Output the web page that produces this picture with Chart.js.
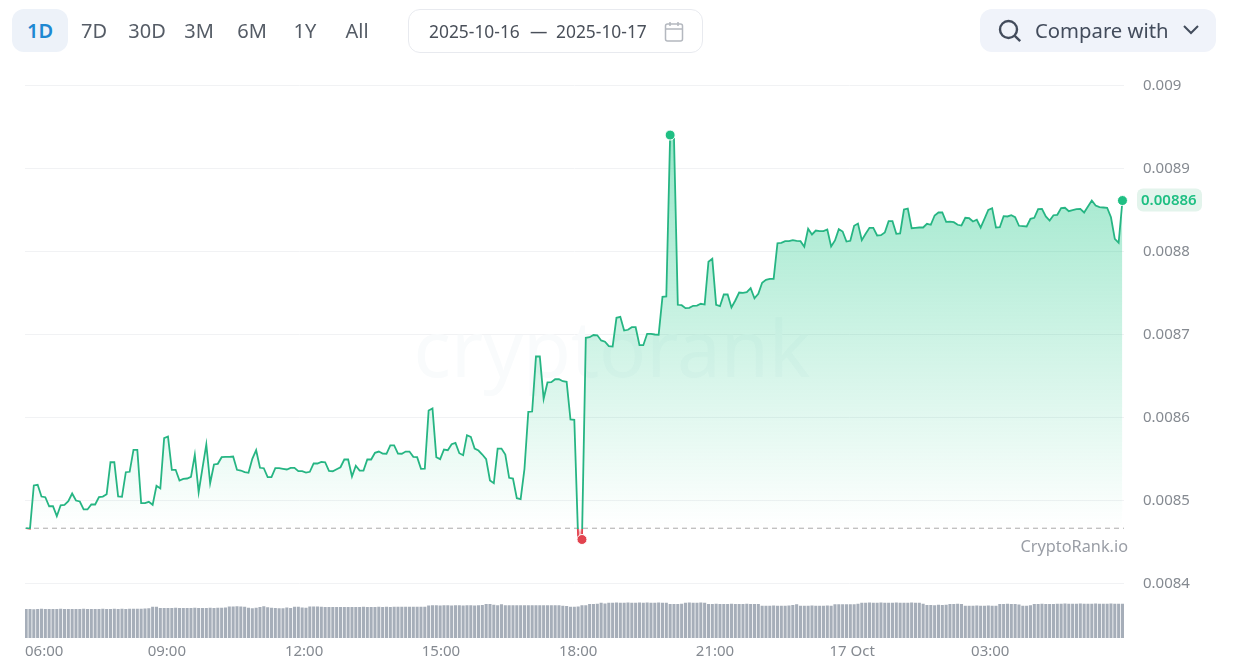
<!DOCTYPE html>
<html>
<head>
<meta charset="utf-8">
<title>CryptoRank chart</title>
<script src="https://cdn.jsdelivr.net/npm/chart.js@4/dist/chart.umd.min.js"></script>
<style>
  html, body { margin: 0; padding: 0; background: #fff; font-family: "Noto Sans", sans-serif; }
  #page { position: relative; width: 1236px; height: 672px; overflow: hidden; }
  #chart { position: absolute; left: 0; top: 0; }
  .range { position: absolute; top: 9px; height: 43px; line-height: 43px; font-size: 20px; color: #555c66; text-align: center; transform: translateX(-50%); }
  .range.active { left: 40px; width: 56px; background: #edf2f9; border-radius: 12px; color: #1e88d2; font-weight: 600; }
  #dates { position: absolute; left: 408px; top: 9px; width: 293px; height: 42px; border: 1px solid #e8eaef; border-radius: 12px; }
  #dates span { position: absolute; top: 0; line-height: 42px; font-size: 17.4px; color: #4a505a; }
  #dates svg { position: absolute; left: 255px; top: 11px; }
  #compare { position: absolute; left: 980px; top: 9px; width: 236px; height: 43px; background: #f0f3fa; border-radius: 12px; }
  #compare span { position: absolute; left: 55px; top: 0; line-height: 43px; font-size: 20.3px; color: #434c5c; }
  #compare svg { position: absolute; }
</style>
</head>
<body>
<div id="page">
  <canvas id="chart" width="1236" height="672"></canvas>
  <div class="range active">1D</div>
  <div class="range" style="left:94px">7D</div>
  <div class="range" style="left:147px">30D</div>
  <div class="range" style="left:199px">3M</div>
  <div class="range" style="left:252px">6M</div>
  <div class="range" style="left:305px">1Y</div>
  <div class="range" style="left:357px">All</div>
  <div id="dates">
    <span style="left:20px">2025-10-16</span>
    <span style="left:121px">—</span>
    <span style="left:147px">2025-10-17</span>
    <svg width="20" height="21" viewBox="0 0 20 21" fill="none" stroke="#b4b8bf" stroke-width="1.5">
      <rect x="1.5" y="3" width="17" height="17" rx="2"/><path d="M1.5 8h17M6 1v4M14 1v4"/>
    </svg>
  </div>
  <div id="compare">
    <svg style="left:17px;top:9px" width="26" height="26" viewBox="0 0 26 26" fill="none" stroke="#434c5c" stroke-width="2.4">
      <circle cx="11.5" cy="11.5" r="8.5"/><path d="M17.8 17.8l5.4 5.4"/>
    </svg>
    <span>Compare with</span>
    <svg style="left:202px;top:15px" width="18" height="12" viewBox="0 0 18 12" fill="none" stroke="#434c5c" stroke-width="2">
      <path d="M2 2l7 7 7-7"/>
    </svg>
  </div>
</div>
<script>
const yTicks = [0.009, 0.0089, 0.0088, 0.0087, 0.0086, 0.0085, 0.0084];
const xTickLabels = ["06:00", "09:00", "12:00", "15:00", "18:00", "21:00", "17 Oct", "03:00"];
// sample index under each label (the first label is pushed inwards by the chart edge)
const xTickSlots = [4.7, 36.7, 72.5, 108.2, 144, 179.7, 215.5, 251.5];

const prices = [
  0.0084666,0.0084659,0.0085181,0.0085189,0.0085048,0.0085040,0.0084931,0.0084931,0.0084811,0.0084943,
  0.0084948,0.0084992,0.0085084,0.0085000,0.0084988,0.0084892,0.0084892,0.0084952,0.0084952,0.0085040,
  0.0085048,0.0085076,0.0085461,0.0085461,0.0085048,0.0085045,0.0085341,0.0085346,0.0085611,0.0085611,
  0.0084968,0.0084968,0.0084984,0.0084948,0.0085177,0.0085145,0.0085751,0.0085771,0.0085370,0.0085370,
  0.0085241,0.0085261,0.0085265,0.0085285,0.0085551,0.0085100,0.0085389,0.0085675,0.0085208,0.0085434,
  0.0085442,0.0085522,0.0085526,0.0085526,0.0085530,0.0085370,0.0085361,0.0085341,0.0085334,0.0085502,
  0.0085606,0.0085394,0.0085389,0.0085281,0.0085281,0.0085389,0.0085389,0.0085382,0.0085374,0.0085394,
  0.0085394,0.0085353,0.0085353,0.0085337,0.0085346,0.0085446,0.0085446,0.0085466,0.0085461,0.0085358,
  0.0085353,0.0085377,0.0085401,0.0085494,0.0085494,0.0085289,0.0085418,0.0085361,0.0085361,0.0085494,
  0.0085494,0.0085575,0.0085590,0.0085566,0.0085563,0.0085663,0.0085663,0.0085566,0.0085563,0.0085590,
  0.0085590,0.0085526,0.0085522,0.0085382,0.0085385,0.0086084,0.0086108,0.0085522,0.0085498,0.0085614,
  0.0085606,0.0085678,0.0085695,0.0085570,0.0085546,0.0085787,0.0085767,0.0085626,0.0085602,0.0085554,
  0.0085498,0.0085241,0.0085208,0.0085626,0.0085626,0.0085554,0.0085273,0.0085265,0.0085028,0.0085016,
  0.0085382,0.0086069,0.0086072,0.0086735,0.0086735,0.0086225,0.0086422,0.0086425,0.0086461,0.0086461,
  0.0086437,0.0086430,0.0085976,0.0085972,0.0084542,0.0084530,0.0086960,0.0086967,0.0086994,0.0086990,
  0.0086928,0.0086913,0.0086859,0.0086855,0.0087201,0.0087213,0.0087048,0.0087057,0.0087088,0.0087088,
  0.0086871,0.0086871,0.0087008,0.0087008,0.0087000,0.0086996,0.0087454,0.0087458,0.0089403,0.0089373,
  0.0087358,0.0087353,0.0087317,0.0087322,0.0087346,0.0087349,0.0087370,0.0087361,0.0087876,0.0087912,
  0.0087358,0.0087341,0.0087482,0.0087482,0.0087325,0.0087410,0.0087506,0.0087502,0.0087510,0.0087558,
  0.0087437,0.0087490,0.0087623,0.0087659,0.0087671,0.0087671,0.0088100,0.0088105,0.0088124,0.0088124,
  0.0088136,0.0088129,0.0088124,0.0088057,0.0088273,0.0088205,0.0088253,0.0088245,0.0088245,0.0088265,
  0.0088060,0.0088133,0.0088269,0.0088241,0.0088120,0.0088129,0.0088310,0.0088337,0.0088136,0.0088213,
  0.0088285,0.0088285,0.0088193,0.0088196,0.0088229,0.0088365,0.0088365,0.0088213,0.0088217,0.0088506,
  0.0088518,0.0088281,0.0088285,0.0088289,0.0088289,0.0088334,0.0088322,0.0088434,0.0088470,0.0088470,
  0.0088358,0.0088361,0.0088353,0.0088322,0.0088313,0.0088406,0.0088401,0.0088361,0.0088382,0.0088289,
  0.0088394,0.0088502,0.0088522,0.0088289,0.0088293,0.0088425,0.0088422,0.0088437,0.0088413,0.0088310,
  0.0088305,0.0088301,0.0088394,0.0088406,0.0088510,0.0088514,0.0088422,0.0088373,0.0088437,0.0088442,
  0.0088522,0.0088527,0.0088486,0.0088498,0.0088510,0.0088514,0.0088470,0.0088542,0.0088614,0.0088554,
  0.0088534,0.0088530,0.0088527,0.0088413,0.0088153,0.0088105,0.0088614
];

const volumes = [
  28.7,28.7,28.5,28.7,28.8,28.7,28.7,28.6,28.7,28.8,
  28.7,28.7,28.6,28.7,28.7,28.8,28.7,28.7,28.6,28.7,
  28.8,28.7,28.7,28.9,28.7,28.8,28.7,28.9,28.8,29,
  29,29.1,29.3,31,31,29.7,29.6,29.7,29.7,29.8,
  29.7,29.7,29.6,29.7,29.8,29.7,29.7,29.7,29.8,29.7,
  29.8,29.9,30.2,31.2,31.2,31.3,31.2,31,29.8,29.5,
  30,30.6,31.4,30.5,30,29.7,29.5,29.5,30.2,29.7,
  30.8,31,30.2,30,31.1,31.2,31.1,31,30.7,30.6,
  30.7,30.7,30.6,30.7,30.7,30.6,30.7,30.7,30.8,30.7,
  30.7,30.7,30.8,30.7,30.8,30.7,31,31,31,31,
  30.9,31,31,31,31,32.2,32.3,32.3,32.2,32.3,
  32.3,32.2,32.3,32.3,32.2,32.3,32.3,32.2,32.5,32.6,
  33.7,33.6,32.8,32.3,33.4,32.4,32.3,32.4,32.3,32.3,
  32.4,32.3,32.3,32.4,32.3,32.3,32.3,32.4,32.3,32.3,
  32,31.6,31,31,31.2,32.3,32.4,33.7,33.7,33.8,
  35,34.2,35,35,35.1,35,35,35.1,35,35,
  35.1,35,35.1,35,35,35.1,35,35,33.7,33.7,
  33.7,33.8,35,35.1,35,35,35.1,35,33.7,33.7,
  33.8,33.7,33.7,33.7,33.8,33.7,33.7,33.7,33.8,33.7,
  33.7,33.7,32,32,32,32.1,32,32,32,32.1,
  32.6,33.4,32,32,32,32.1,32,32,32,32.1,
  32,33.4,33.4,33.3,33.4,33.4,33.3,33.8,35,35,
  35.1,35,35,35.1,35,35,35,35.1,35,35,
  35,35.1,35,35,34,32.7,32.7,32.5,33,32.7,
  32.8,33.7,33.7,33.8,33.7,32,32,32,32.1,32,
  32,32.1,32,32,33.7,33.7,33.8,33.7,33.7,33.2,
  32,32,32.3,33.7,33.7,33.8,33.7,33.7,33.6,34,
  34,34.1,34,34,34,34.1,34,34,34,34.1,
  34,34,34,34.1,34,34,34
];

const basePrice = prices[0];
const lastPrice = prices[prices.length - 1];
const lastLabel = "0.00886";
const maxIndex = prices.indexOf(Math.max(...prices));
const minIndex = prices.indexOf(Math.min(...prices));
const lastIndex = prices.length - 1;

const GREEN = "#26b583";
const RED = "#e2434f";
const DOT_GREEN = "#1fbf83";

const overlayPlugin = {
  id: "overlay",
  beforeDatasetsDraw(chart) {
    const { ctx } = chart;
    ctx.save();
    ctx.fillStyle = "#f9fbfc";
    ctx.font = "400 78px 'Noto Sans'";
    ctx.textAlign = "center";
    ctx.textBaseline = "middle";
    ctx.fillText("cryptorank", 612, 355);
    ctx.restore();
  },
  afterDraw(chart) {
    const { ctx, chartArea, scales } = chart;
    ctx.save();
    ctx.font = "16.3px 'Noto Sans'";
    ctx.fillStyle = "#9a9ea6";
    ctx.textAlign = "right";
    ctx.textBaseline = "middle";
    ctx.fillText("CryptoRank.io", chartArea.right + 4, 547);

    const y = scales.y.getPixelForValue(lastPrice);
    ctx.fillStyle = "#e3f4ec";
    ctx.beginPath();
    ctx.roundRect(1137, y - 12, 65, 23, 6);
    ctx.fill();
    ctx.fillStyle = DOT_GREEN;
    ctx.font = "600 15px 'Noto Sans'";
    ctx.textAlign = "left";
    ctx.fillText(lastLabel, 1141, y);
    ctx.restore();
  }
};

const chart = new Chart(document.getElementById("chart"), {
  data: {
    datasets: [
      {
        type: "line",
        yAxisID: "y",
        data: prices.map((p, i) => ({ x: i, y: p })),
        borderWidth: 1.8,
        borderColor: GREEN,
        tension: 0,
        fill: { target: { value: basePrice }, above: "rgba(22,199,132,0.2)", below: "rgba(226,67,79,0.3)" },
        pointRadius: (c) => ([maxIndex, minIndex, lastIndex].includes(c.dataIndex) ? 5 : 0),
        pointHoverRadius: 0,
        pointBorderWidth: 1,
        pointBorderColor: "#fff",
        pointBackgroundColor: (c) => (c.dataIndex === minIndex ? RED : DOT_GREEN),
        clip: false,
        order: 1
      },
      {
        type: "line",
        yAxisID: "y",
        data: [{ x: -0.3, y: basePrice }, { x: 286.4, y: basePrice }],
        borderColor: "#a9a9a9",
        borderWidth: 1,
        borderDash: [5, 4],
        pointRadius: 0,
        order: 2
      },
      {
        type: "bar",
        yAxisID: "yVolume",
        data: volumes.map((v, i) => ({ x: i, y: v })),
        backgroundColor: "#a6aeb9",
        barThickness: 2.4,
        order: 3
      }
    ]
  },
  options: {
    responsive: false,
    animation: false,
    events: [],
    layout: { padding: { left: 25, top: 85.5, right: 0, bottom: 0 } },
    plugins: { legend: { display: false }, tooltip: { enabled: false } },
    scales: {
      x: {
        type: "linear",
        offset: false,
        min: -0.3,
        max: 286.4,
        grid: { display: false, drawTicks: false },
        border: { display: false },
        afterBuildTicks: (axis) => { axis.ticks = xTickSlots.map((v) => ({ value: v })); },
        afterFit: (axis) => { axis.height = 34; },
        ticks: {
          autoSkip: false,
          maxRotation: 0,
          padding: 5,
          color: "#858a91",
          font: { family: "Noto Sans", size: 15 },
          callback: (v) => xTickLabels[xTickSlots.indexOf(v)]
        }
      },
      y: {
        position: "right",
        min: 0.00833434,
        max: 0.009,
        grid: { color: "#f1f2f4", drawTicks: false },
        border: { display: false },
        afterBuildTicks: (axis) => { axis.ticks = yTicks.map((v) => ({ value: v })); },
        afterFit: (axis) => { axis.width = 112; },
        ticks: {
          padding: 19,
          crossAlign: "near",
          color: "#858a91",
          font: { family: "Noto Sans", size: 15 },
          callback: (v) => String(v)
        }
      },
      yVolume: { display: false, position: "right", min: 0, max: 552.5 }
    }
  },
  plugins: [overlayPlugin]
});

// gradients need the finished scale, so they go in after the first layout
const yScale = chart.scales.y;
const baseY = yScale.getPixelForValue(basePrice);
const topY = yScale.getPixelForValue(prices[maxIndex]);
const lowY = yScale.getPixelForValue(prices[minIndex]);

const fillGradient = chart.ctx.createLinearGradient(0, topY, 0, baseY);
fillGradient.addColorStop(0, "rgba(22,199,132,0.44)");
fillGradient.addColorStop(1, "rgba(22,199,132,0)");

// starts at zero so the red fill leaves no hairline along the baseline
const dipGradient = chart.ctx.createLinearGradient(0, baseY, 0, baseY + 4);
dipGradient.addColorStop(0, "rgba(226,67,79,0)");
dipGradient.addColorStop(1, "rgba(226,67,79,0.4)");

const lineGradient = chart.ctx.createLinearGradient(0, topY, 0, lowY);
const stop = (baseY + 0.8 - topY) / (lowY - topY);
lineGradient.addColorStop(0, GREEN);
lineGradient.addColorStop(stop, GREEN);
lineGradient.addColorStop(stop, RED);
lineGradient.addColorStop(1, RED);

chart.data.datasets[0].fill.above = fillGradient;
chart.data.datasets[0].fill.below = dipGradient;
chart.data.datasets[0].borderColor = lineGradient;
chart.update("none");
</script>
</body>
</html>
